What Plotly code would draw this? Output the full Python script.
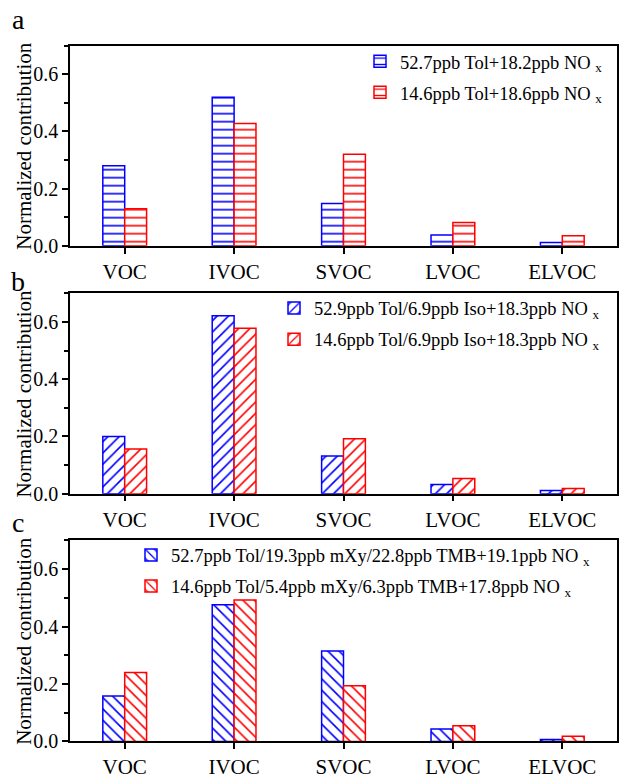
import plotly.graph_objects as go

categories = ["VOC", "IVOC", "SVOC", "LVOC", "ELVOC"]

a_blue = [0.28, 0.52, 0.148, 0.038, 0.012]
a_red = [0.13, 0.428, 0.32, 0.082, 0.035]
b_blue = [0.20, 0.622, 0.132, 0.032, 0.011]
b_red = [0.156, 0.578, 0.192, 0.053, 0.018]
c_blue = [0.158, 0.476, 0.315, 0.043, 0.007]
c_red = [0.24, 0.492, 0.194, 0.055, 0.018]

a_names = ["52.7ppb Tol+18.2ppb NO <sub>x</sub>", "14.6ppb Tol+18.6ppb NO <sub>x</sub>"]
b_names = ["52.9ppb Tol/6.9ppb Iso+18.3ppb NO <sub>x</sub>", "14.6ppb Tol/6.9ppb Iso+18.3ppb NO <sub>x</sub>"]
c_names = ["52.7ppb Tol/19.3ppb mXy/22.8ppb TMB+19.1ppb NO <sub>x</sub>",
           "14.6ppb Tol/5.4ppb mXy/6.3ppb TMB+17.8ppb NO <sub>x</sub>"]
y_title = "Normalized contribution"

W, H = 619, 779
FONT = "Liberation Serif"
BLUE = "#0000ff"
RED = "#ff0000"

def py(px):
    return (H - px) / H

def px_x(px):
    return px / W

fig = go.Figure()

panels = [
    (a_blue, a_red, a_names, "-", "", "legend", 47, 253),
    (b_blue, b_red, b_names, "/", "2", "legend2", 302, 508),
    (c_blue, c_red, c_names, "\\", "3", "legend3", 556, 763),
]

for blue, red, names, shape, sfx, leg, top, bot in panels:
    for k, (vals, col, nm) in enumerate([(blue, BLUE, names[0]), (red, RED, names[1])]):
        fig.add_trace(go.Bar(
            x=categories, y=vals, name=nm,
            xaxis="x" + sfx, yaxis="y" + sfx, legend=leg,
            legendgroup=leg + str(k),
            marker=dict(color="white",
                        line=dict(color=col, width=1.5),
                        pattern=dict(shape=shape, fgcolor=col, bgcolor="white",
                                     size=8, solidity=0.2, fillmode="replace")),
        ))

axis_common = dict(showline=True, linecolor="black", linewidth=1.5, mirror=True,
                   ticks="outside", tickcolor="black", tickwidth=1.5, ticklen=6,
                   showgrid=False, zeroline=False,
                   tickfont=dict(family=FONT, size=20, color="black"))

layout = dict(
    width=W, height=H, margin=dict(l=0, r=0, t=0, b=0),
    plot_bgcolor="white", paper_bgcolor="white",
    barmode="group", bargap=0.6, bargroupgap=0,
    font=dict(family=FONT, size=18, color="black"),
    annotations=[],
)

for i, (blue, red, names, shape, sfx, leg, top, bot) in enumerate(panels):
    xa = "xaxis" + sfx
    ya = "yaxis" + sfx
    layout[xa] = dict(axis_common, domain=[px_x(70), px_x(617)], anchor="y" + sfx,
                      type="category", range=[-0.5, 4.5],
                      tickfont=dict(family=FONT, size=21, color="black"))
    layout[ya] = dict(axis_common, domain=[py(bot), py(top)], anchor="x" + sfx,
                      range=[0, 0.7], dtick=0.2, tickformat=".1f",
                      minor=dict(dtick=0.1, ticks="outside", ticklen=4, tickwidth=1.5, tickcolor="black"))
    layout["annotations"].append(dict(text=y_title, textangle=-90, x=px_x(24), y=py((top + bot) / 2),
                                      xref="paper", yref="paper", showarrow=False,
                                      xanchor="center", yanchor="middle",
                                      font=dict(family=FONT, size=21, color="black")))

leg_pos = {"legend": (360, 44), "legend2": (274, 298), "legend3": (131, 552)}
for leg, (lx, ly) in leg_pos.items():
    layout[leg] = dict(x=px_x(lx), y=py(ly), xanchor="left", yanchor="top",
                       bgcolor="rgba(0,0,0,0)", borderwidth=0,
                       font=dict(family=FONT, size=18.5, color="black"),
                       traceorder="grouped", tracegroupgap=4)

for lab, ly in [("a", 20), ("b", 290), ("c", 538)]:
    layout["annotations"].append(dict(text=lab, x=px_x(18), y=py(ly), xref="paper", yref="paper",
                                      showarrow=False, font=dict(family=FONT, size=28, color="black"),
                                      xanchor="center", yanchor="middle"))

fig.update_layout(**layout)
post = ("document.documentElement.style.margin='0';document.body.style.margin='0';"
        "document.documentElement.style.overflow='hidden';document.body.style.overflow='hidden';"
        "var gd=document.getElementById('{plot_id}');gd.style.position='fixed';"
        "gd.style.top='0px';gd.style.left='0px';")
fig.write_html("out.html", config={"displayModeBar": False}, post_script=post)
